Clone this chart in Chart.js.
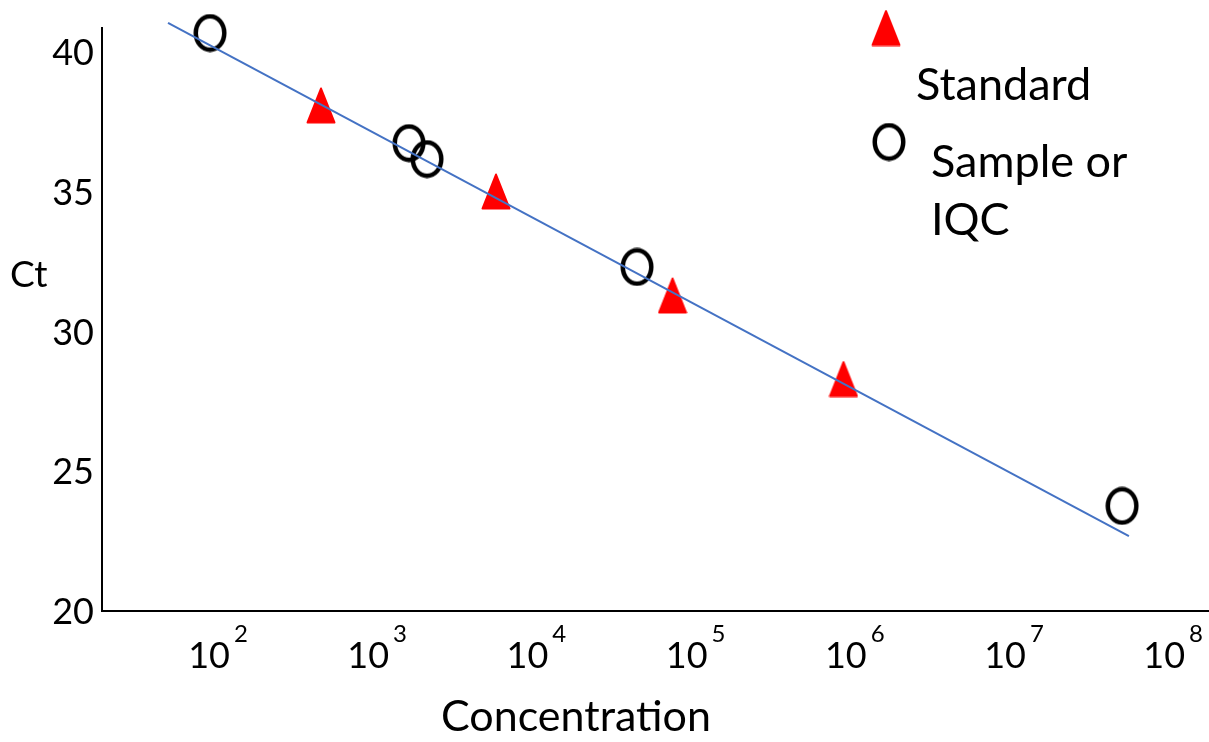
<!DOCTYPE html>
<html>
<head>
<meta charset="utf-8">
<script src="https://cdn.jsdelivr.net/npm/chart.js@4.4.0/dist/chart.umd.min.js"></script>
<style>
  html, body { margin: 0; padding: 0; background: #fff; }
  #wrap { width: 1209px; height: 742px; }
</style>
</head>
<body>
<div id="wrap"><canvas id="ctChart" width="1209" height="742"></canvas></div>
<script>
// log10(concentration) vs Ct
const standardLogConc = [2.647, 3.746, 4.855, 5.929];
const standardCt = [38.09, 35.01, 31.29, 28.30];
const sampleLogConc = [1.950, 3.200, 3.313, 4.632, 7.679];
const sampleCt = [40.68, 36.74, 36.17, 32.31, 23.76];
const fitLogConc = [1.686, 7.722];
const fitCt = [41.04, 22.68];
const xDecades = [2, 3, 4, 5, 6, 7, 8];
const yTicks = [20, 25, 30, 35, 40];

const FONT = 'Lato, "Open Sans", sans-serif';

function toPoints(xs, ys) {
    return xs.map((x, i) => ({ x: x, y: ys[i] }));
}

// red rounded triangle marker
function triangleMarker() {
    const c = document.createElement('canvas');
    c.width = 30; c.height = 37;
    const g = c.getContext('2d');
    g.fillStyle = '#ff0000';
    g.strokeStyle = '#ff0000';
    g.lineWidth = 2;
    g.lineJoin = 'round';
    g.beginPath();
    g.moveTo(15, 1.5);
    g.lineTo(28.5, 35.5);
    g.lineTo(1.5, 35.5);
    g.closePath();
    g.fill();
    g.stroke();
    return c;
}

// black open ellipse marker
function ringMarker() {
    const c = document.createElement('canvas');
    c.width = 34; c.height = 39;
    const g = c.getContext('2d');
    g.strokeStyle = '#000';
    g.lineWidth = 4.5;
    g.beginPath();
    g.ellipse(17, 19.5, 14.25, 16.75, 0, 0, Math.PI * 2);
    g.stroke();
    return c;
}

const triImg = triangleMarker();
const ringImg = ringMarker();

const labelsPlugin = {
    id: 'labels',
    afterDraw(chart) {
        const ctx = chart.ctx;
        const xs = chart.scales.x;
        const ys = chart.scales.y;
        ctx.save();
        ctx.fillStyle = '#000';
        ctx.textBaseline = 'alphabetic';

        // y tick labels
        ctx.font = '36px ' + FONT;
        ctx.textAlign = 'right';
        yTicks.forEach(v => ctx.fillText(String(v), 94, ys.getPixelForValue(v) + 13));

        // x tick labels, 10 with raised exponent
        ctx.textAlign = 'left';
        xDecades.forEach(d => {
            const px = xs.getPixelForValue(d);
            ctx.font = '36px ' + FONT;
            const w = ctx.measureText('10').width;
            ctx.font = '24px ' + FONT;
            const sw = ctx.measureText(String(d)).width;
            const left = px - (w + 4 + sw) / 2;
            ctx.font = '36px ' + FONT;
            ctx.fillText('10', left, 668);
            ctx.font = '24px ' + FONT;
            ctx.fillText(String(d), left + w + 4, 642);
        });

        // axis titles
        ctx.font = '37px ' + FONT;
        ctx.fillText('Ct', 10, 287);
        ctx.font = '43px ' + FONT;
        ctx.fillText('Concentration', 441, 731);

        // legend
        ctx.drawImage(triImg, 886 - triImg.width / 2, 28 - triImg.height / 2);
        ctx.drawImage(ringImg, 889 - ringImg.width / 2, 142 - ringImg.height / 2);
        ctx.font = '45px ' + FONT;
        ctx.fillText('Standard', 916, 100);
        ctx.fillText('Sample or', 931, 177);
        ctx.fillText('IQC', 931, 235);
        ctx.restore();
    }
};

const ctx = document.getElementById('ctChart').getContext('2d');
new Chart(ctx, {
    type: 'scatter',
    data: {
        datasets: [
            {
                label: 'Fit',
                type: 'line',
                data: toPoints(fitLogConc, fitCt),
                borderColor: '#4472c4',
                borderWidth: 2,
                pointRadius: 0,
                clip: false,
                order: 0
            },
            {
                label: 'Standard',
                data: toPoints(standardLogConc, standardCt),
                pointStyle: triImg,
                clip: false,
                order: 1
            },
            {
                label: 'Sample or IQC',
                data: toPoints(sampleLogConc, sampleCt),
                pointStyle: ringImg,
                clip: false,
                order: 2
            }
        ]
    },
    options: {
        responsive: false,
        animation: false,
        events: [],
        layout: { autoPadding: false, padding: { left: 102, top: 28, right: 0, bottom: 131 } },
        plugins: {
            legend: { display: false },
            tooltip: { enabled: false }
        },
        scales: {
            x: {
                type: 'linear',
                min: 1.2714,
                max: 8.225,
                grid: { display: false, drawTicks: false },
                ticks: { display: false },
                border: { color: '#000', width: 2 }
            },
            y: {
                min: 20,
                max: 40.86,
                grid: { display: false, drawTicks: false },
                ticks: { display: false },
                border: { color: '#000', width: 2 }
            }
        }
    },
    plugins: [labelsPlugin]
});
</script>
</body>
</html>
